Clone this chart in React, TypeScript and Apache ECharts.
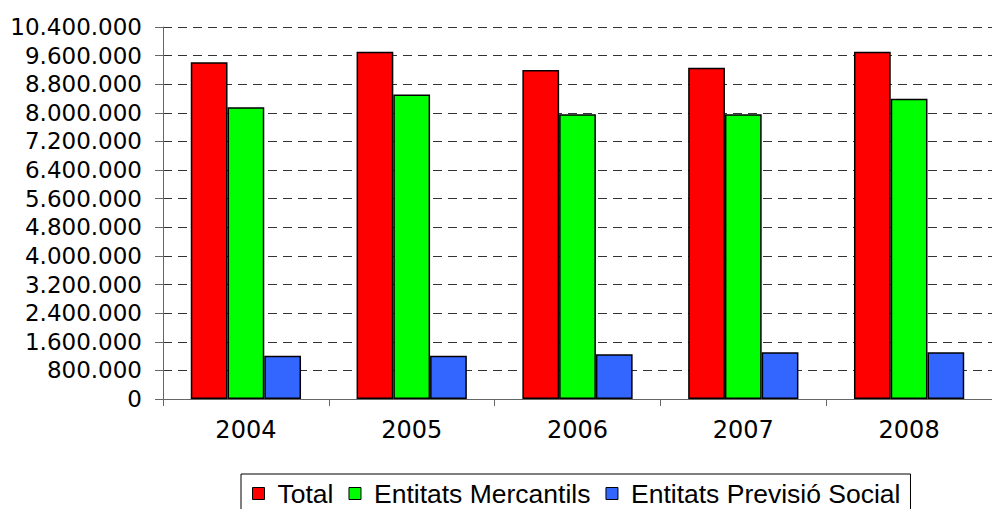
import React, { useEffect, useRef } from "react";
import * as echarts from "echarts";

const years = ["2004", "2005", "2006", "2007", "2008"];
const total = [9413000, 9710000, 9198000, 9263000, 9710000];
const mercantils = [8155000, 8510000, 7960000, 7960000, 8396000];
const previsio = [1211000, 1211000, 1250000, 1305000, 1305000];
const seriesNames = ["Total", "Entitats Mercantils", "Entitats Previsió Social"];
const seriesColors = ["#FF0000", "#00FF00", "#3366FF"];

function fmt(v: number): string {
  return String(Math.round(v)).replace(/\B(?=(\d{3})+(?!\d))/g, ".");
}

export default function App() {
  const ref = useRef<HTMLDivElement>(null);
  useEffect(() => {
    if (!ref.current) return;
    const chart = echarts.init(ref.current, undefined, { renderer: "svg" });
    const data = [total, mercantils, previsio];
    chart.setOption({
      animation: false,
      backgroundColor: "#fff",
      grid: { left: 163, top: 27, width: 843, bottom: 110, containLabel: false },
      legend: {
        data: seriesNames,
        left: 241,
        top: 474,
        padding: [6, 10, 30, 11],
        borderColor: "#000",
        borderWidth: 1,
        itemWidth: 12,
        itemHeight: 12,
        itemGap: 15,
        icon: "rect",
        itemStyle: { borderColor: "#000", borderWidth: 1 },
        textStyle: { fontFamily: "Liberation Sans, Arial", fontSize: 26.5, color: "#000", padding: [0, 0, 0, 8] },
      },
      xAxis: {
        type: "category",
        data: years,
        axisLine: { show: true, lineStyle: { color: "#666", width: 1 } },
        axisTick: { show: true, length: 7, lineStyle: { color: "#666" } },
        axisLabel: { fontFamily: "DejaVu Sans", fontSize: 24, color: "#000", margin: 19 },
      },
      yAxis: {
        type: "value",
        min: 0,
        max: 10400000,
        interval: 800000,
        axisLine: { show: true, lineStyle: { color: "#666", width: 1 } },
        axisTick: { show: true, length: 8, lineStyle: { color: "#666" } },
        axisLabel: {
          fontFamily: "DejaVu Sans",
          fontSize: 23,
          color: "#000",
          margin: 21,
          formatter: (v: number) => fmt(v),
        },
        splitLine: { show: true, lineStyle: { color: "#333", type: [9, 6], width: 1 } },
      },
      series: seriesNames.map((name, i) => ({
        name,
        type: "bar",
        data: data[i],
        barGap: "0%",
        barCategoryGap: "33.5%",
        itemStyle: { color: seriesColors[i], borderColor: "#000", borderWidth: 1.5 },
      })),
    });
    return () => chart.dispose();
  }, []);
  return <div ref={ref} style={{ width: 992, height: 509, position: "absolute", left: 0, top: 0 }} />;
}
